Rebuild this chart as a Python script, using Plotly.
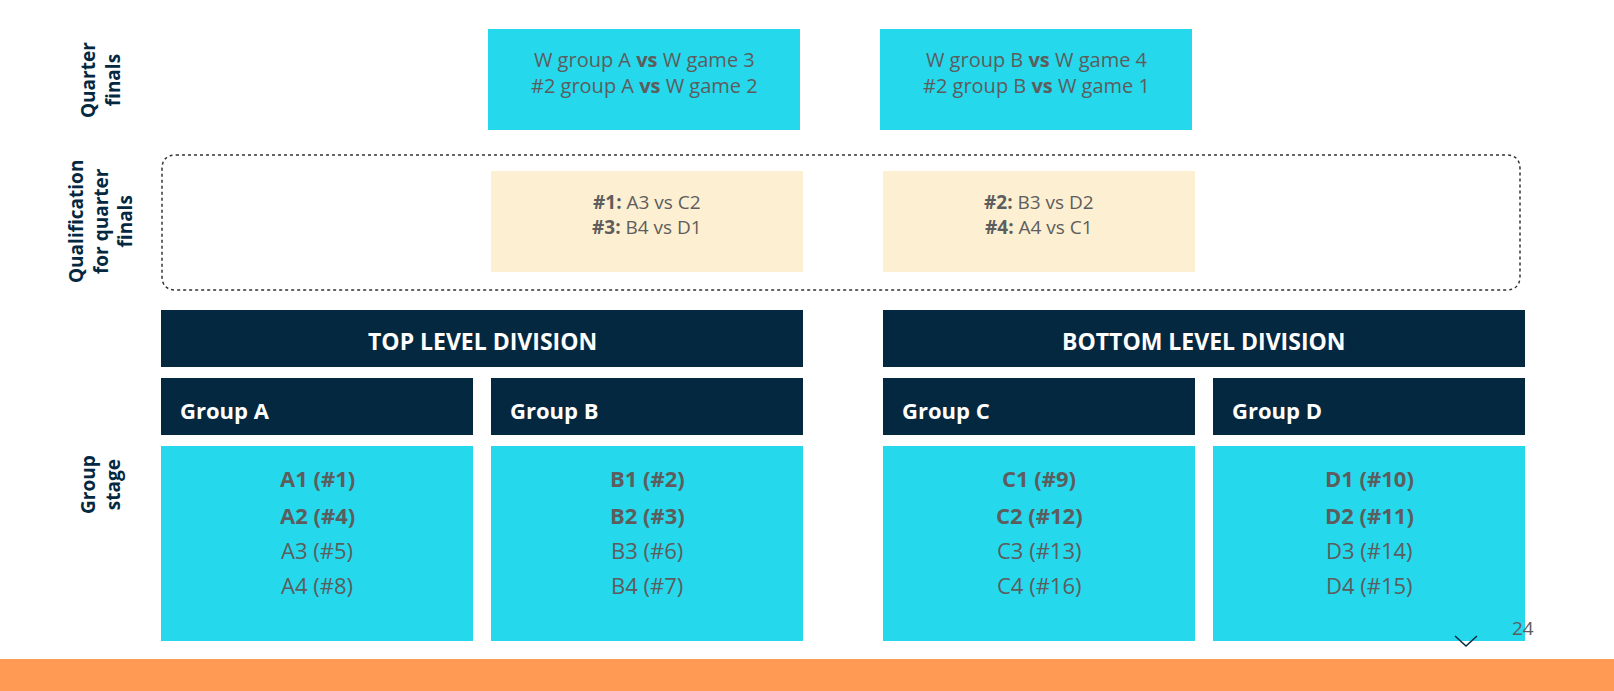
import plotly.graph_objects as go

# ---- data ----
stage_labels = ["Quarter<br>finals", "Qualification<br>for quarter<br>finals", "Group<br>stage"]
qf_games = ["W group A <b>vs</b> W game 3<br>#2 group A <b>vs</b> W game 2",
            "W group B <b>vs</b> W game 4<br>#2 group B <b>vs</b> W game 1"]
qual_games = ["<b>#1:</b> A3 vs C2<br><b>#3:</b> B4 vs D1",
              "<b>#2:</b> B3 vs D2<br><b>#4:</b> A4 vs C1"]
divisions = ["TOP LEVEL DIVISION", "BOTTOM LEVEL DIVISION"]
groups = ["Group A", "Group B", "Group C", "Group D"]
group_teams = [
    ["A1 (#1)", "A2 (#4)", "A3 (#5)", "A4 (#8)"],
    ["B1 (#2)", "B2 (#3)", "B3 (#6)", "B4 (#7)"],
    ["C1 (#9)", "C2 (#12)", "C3 (#13)", "C4 (#16)"],
    ["D1 (#10)", "D2 (#11)", "D3 (#14)", "D4 (#15)"],
]
page_no = "24"

CYAN = "#26D8EC"
BEIGE = "#FDEFD1"
NAVY = "#052841"
GREY = "#5d5d5d"
FONT = "Open Sans"

fig = go.Figure()
shapes = []
ann = []


def box(x0, y0, x1, y1, color):
    shapes.append(dict(type="rect", x0=x0, y0=y0, x1=x1, y1=y1,
                       fillcolor=color, line=dict(width=0), layer="below"))


def text(x, y, t, size=20, color=GREY, anchor="center", angle=0):
    ann.append(dict(x=x, y=y, text=t, showarrow=False, xanchor=anchor, yanchor="middle",
                    textangle=angle, align="center",
                    font=dict(family=FONT, size=size, color=color)))


# stage labels on the left
for lbl, yc in zip(stage_labels, [80, 222, 485]):
    text(100, yc, "<b>" + lbl + "</b>", size=19, color=NAVY, angle=-90)

# quarter finals
for i, t in enumerate(qf_games):
    x0 = [488, 880][i]
    box(x0, 29, x0 + 312, 130, CYAN)
    text(x0 + 156, 72, t, size=20)

# qualification (dotted rounded frame)
r = 14
x0, y0, x1, y1 = 162, 155, 1520, 290
path = (f"M {x0+r},{y0} L {x1-r},{y0} Q {x1},{y0} {x1},{y0+r} L {x1},{y1-r} "
        f"Q {x1},{y1} {x1-r},{y1} L {x0+r},{y1} Q {x0},{y1} {x0},{y1-r} "
        f"L {x0},{y0+r} Q {x0},{y0} {x0+r},{y0} Z")
shapes.append(dict(type="path", path=path, line=dict(color="#333333", width=1.5, dash="dot")))
for i, t in enumerate(qual_games):
    xq = [491, 883][i]
    box(xq, 171, xq + 312, 272, BEIGE)
    text(xq + 156, 214, t, size=19)

# divisions
for i, d in enumerate(divisions):
    xd = [161, 883][i]
    box(xd, 310, xd + 642, 367, NAVY)
    text(xd + 321, 341, "<b>" + d + "</b>", size=23, color="white")

# groups
gx = [161, 491, 883, 1213]
for i, g in enumerate(groups):
    box(gx[i], 378, gx[i] + 312, 435, NAVY)
    text(gx[i] + 17, 410, "<b>" + g + "</b>", size=22, color="white", anchor="left")
    box(gx[i], 446, gx[i] + 312, 641, CYAN)
    teams = group_teams[i]
    for j, tm in enumerate(teams):
        t = "<b>" + tm + "</b>" if j < 2 else tm
        text(gx[i] + 156, [478, 515, 550, 585][j], t, size=22)

# footer
box(0, 659, 1614, 691, "#FF9A55")
text(1523, 628, page_no, size=19)
shapes.append(dict(type="path", path="M 1455,636 L 1466,646 L 1477,636",
                   line=dict(color=NAVY, width=1.5)))

fig.update_layout(
    width=1614, height=691,
    margin=dict(l=0, r=0, t=0, b=0),
    plot_bgcolor="white", paper_bgcolor="white",
    xaxis=dict(range=[0, 1614], visible=False, fixedrange=True),
    yaxis=dict(range=[691, 0], visible=False, fixedrange=True),
    shapes=shapes, annotations=ann, showlegend=False,
)
fig.write_html("out.html", config={"displayModeBar": False},
               post_script="document.body.style.margin='0';document.body.style.overflow='hidden';")
